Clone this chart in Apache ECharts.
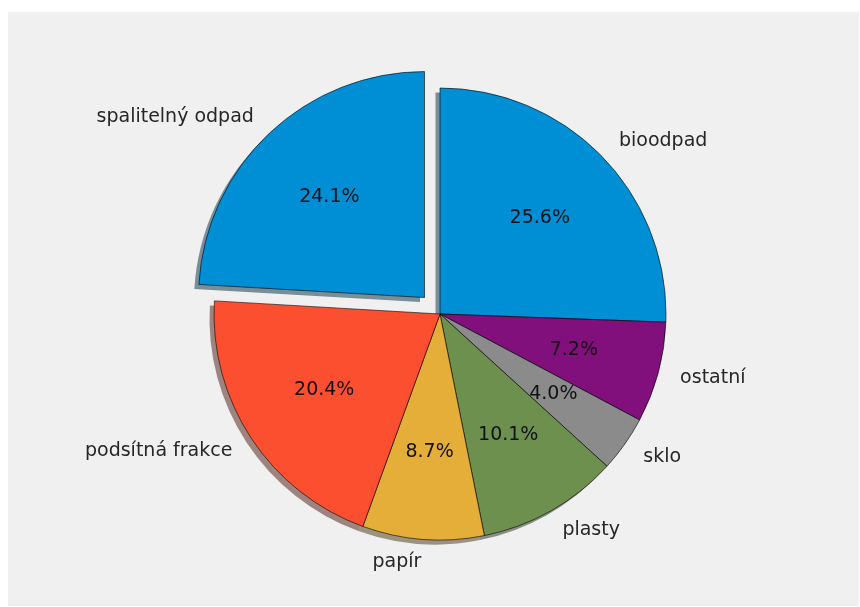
<!DOCTYPE html>
<html>
<head>
<meta charset="utf-8">
<script src="https://cdn.jsdelivr.net/npm/echarts@6/dist/echarts.min.js"></script>
<style>
html,body{margin:0;padding:0;background:#ffffff;}
#chart{position:absolute;left:8px;top:12px;width:851px;height:594px;}
</style>
</head>
<body>
<div id="chart"></div>
<script>
// Data (clockwise from 12 o'clock)
const categories = ['bioodpad', 'ostatní', 'sklo', 'plasty', 'papír', 'podsítná frakce', 'spalitelný odpad'];
const values = [25.6, 7.2, 4.0, 10.1, 8.7, 20.4, 24.1];
const exploded = [false, false, false, false, false, false, true];
const palette = ['#008fd5', '#810f7c', '#8b8b8b', '#6d904f', '#e5ae38', '#fc4f30', '#008fd5'];

function shadowColor(hex) {
  const r = parseInt(hex.slice(1, 3), 16), g = parseInt(hex.slice(3, 5), 16), b = parseInt(hex.slice(5, 7), 16);
  return 'rgba(' + Math.round(r * 0.3) + ',' + Math.round(g * 0.3) + ',' + Math.round(b * 0.3) + ',0.5)';
}

const R = 226;
const CX = 432, CY = 302;
const OFF = R * 0.1;
const FONT = 'DejaVu Sans';

function mkData(colorFn) {
  return categories.map((c, i) => ({
    name: c,
    value: values[i],
    selected: exploded[i],
    itemStyle: { color: colorFn(i) }
  }));
}

const common = {
  type: 'pie',
  startAngle: 90,
  clockwise: true,
  selectedMode: 'multiple',
  selectedOffset: OFF,
  avoidLabelOverlap: false,
  minShowLabelAngle: 0,
  emphasis: { disabled: true },
  select: { disabled: false },
  animation: false,
  silent: true
};

const chart = echarts.init(document.getElementById('chart'), null, { renderer: 'canvas' });
chart.setOption({
  backgroundColor: '#f0f0f0',
  animation: false,
  series: [
    Object.assign({}, common, {
      name: 'shadow',
      center: [CX - 4.5, CY + 4.5],
      radius: [0, R],
      z: 1,
      data: mkData(i => shadowColor(palette[i])),
      itemStyle: { borderWidth: 0 },
      label: { show: false },
      labelLine: { show: false }
    }),
    Object.assign({}, common, {
      name: 'main',
      center: [CX, CY],
      radius: [0, R],
      z: 2,
      data: mkData(i => palette[i]),
      itemStyle: { borderColor: 'rgba(0,0,0,0.85)', borderWidth: 0.7 },
      label: {
        show: true,
        position: 'outside',
        formatter: '{b}',
        fontFamily: FONT,
        fontSize: 19,
        color: '#262626',
        distanceToLabelLine: 0
      },
      labelLine: { show: false, length: R * 0.1, length2: 0 }
    }),
    Object.assign({}, common, {
      name: 'pct',
      center: [CX, CY],
      radius: [0, R * 1.2],
      z: 3,
      data: mkData(() => 'rgba(0,0,0,0)'),
      itemStyle: { borderWidth: 0 },
      label: {
        show: true,
        position: 'inside',
        rotate: 0,
        formatter: p => p.value.toFixed(1) + '%',
        fontFamily: FONT,
        fontSize: 19,
        color: '#111111'
      },
      labelLine: { show: false }
    })
  ]
});
</script>
</body>
</html>
